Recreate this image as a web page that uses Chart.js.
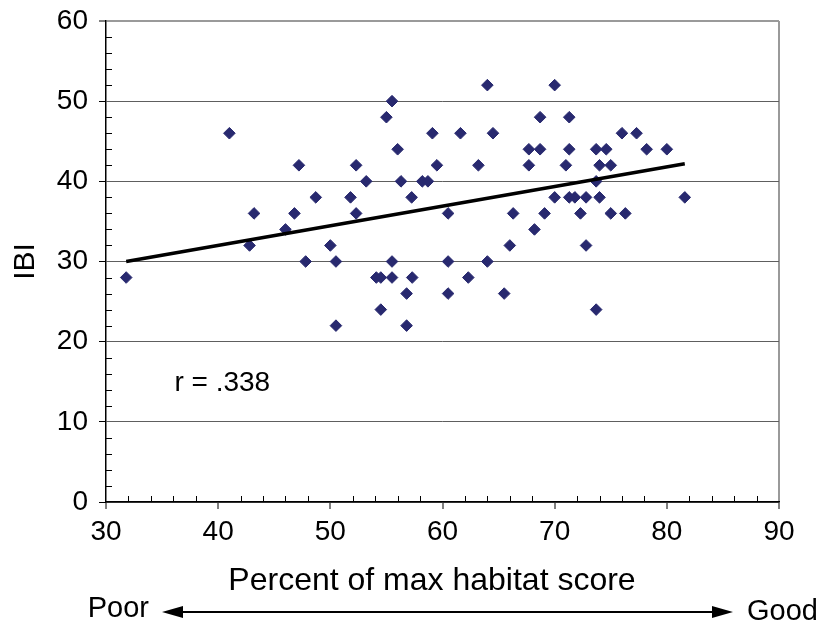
<!DOCTYPE html>
<html>
<head>
<meta charset="utf-8">
<script src="https://cdn.jsdelivr.net/npm/chart.js@4.4.1/dist/chart.umd.min.js"></script>
<style>
  html, body { margin: 0; padding: 0; background: #fff; }
  #wrap { width: 820px; height: 628px; }
</style>
</head>
<body>
<div id="wrap"><canvas id="c" width="820" height="628"></canvas></div>
<script>
// Habitat score (% of max) for each sampled site
const habitatScore = [
  31.8, 41.0, 42.8, 43.2, 46.0, 46.8, 47.2, 47.8, 48.7, 50.0,
  50.5, 50.5, 51.8, 52.3, 52.3, 53.2, 54.1, 54.5, 54.5, 55.0,
  55.5, 55.5, 55.5, 56.0, 56.3, 56.8, 56.8, 57.25, 57.3, 58.2,
  58.7, 59.1, 59.5, 60.5, 60.5, 60.5, 61.6, 62.3, 63.2, 64.0,
  64.0, 64.5, 65.5, 66.0, 66.3, 67.7, 67.7, 68.2, 68.7, 68.7,
  69.1, 70.0, 70.0, 71.0, 71.3, 71.3, 71.3, 71.8, 72.3, 72.8,
  72.8, 73.7, 73.7, 73.7, 74.0, 74.0, 74.6, 75.0, 75.0, 76.0,
  76.3, 77.3, 78.2, 80.0, 81.6
];
// Index of Biotic Integrity for the same sites
const ibiScore = [
  28, 46, 32, 36, 34, 36, 42, 30, 38, 32,
  30, 22, 38, 42, 36, 40, 28, 28, 24, 48,
  50, 30, 28, 44, 40, 26, 22, 38, 28, 40,
  40, 46, 42, 36, 30, 26, 46, 28, 42, 52,
  30, 46, 26, 32, 36, 44, 42, 34, 48, 44,
  36, 52, 38, 42, 48, 44, 38, 38, 36, 38,
  32, 44, 40, 24, 42, 38, 44, 42, 36, 46,
  36, 46, 44, 44, 38
];
// Least-squares trend line end points
const trendX = [31.8, 81.6];
const trendY = [30.0, 42.2];
const correlationLabel = 'r = .338';

const xTitle = 'Percent of max habitat score';
const yTitle = 'IBI';
const poorLabel = 'Poor';
const goodLabel = 'Good';

const FONT = "'Liberation Sans', Arial, Helvetica, sans-serif";

const points = habitatScore.map((x, i) => ({ x, y: ibiScore[i] }));
const trend = trendX.map((x, i) => ({ x, y: trendY[i] }));

// Minor tick marks, correlation note, x-axis title and the Poor/Good arrow
const extras = {
  id: 'extras',
  afterDraw(chart) {
    const { ctx, chartArea: a, scales: { x, y } } = chart;
    ctx.save();
    ctx.strokeStyle = '#000';
    ctx.lineWidth = 1;
    ctx.beginPath();
    for (let v = x.min; v <= x.max; v += 2) {
      if (v % 10 === 0) continue;
      const px = Math.round(x.getPixelForValue(v)) + 0.5;
      ctx.moveTo(px, a.bottom);
      ctx.lineTo(px, a.bottom - 6);
    }
    for (let v = y.min; v <= y.max; v += 2) {
      if (v % 10 === 0) continue;
      const py = Math.round(y.getPixelForValue(v)) + 0.5;
      ctx.moveTo(a.left, py);
      ctx.lineTo(a.left + 6, py);
    }
    ctx.stroke();

    // correlation coefficient
    ctx.fillStyle = '#000';
    ctx.font = '28px ' + FONT;
    ctx.textAlign = 'left';
    ctx.textBaseline = 'middle';
    ctx.fillText(correlationLabel, x.getPixelForValue(36.1), y.getPixelForValue(14.8));

    // x-axis title
    ctx.font = '32px ' + FONT;
    ctx.textAlign = 'center';
    ctx.fillText(xTitle, a.left + 326, a.bottom + 79);

    // Poor <-> Good arrow under the axis title
    const ay = 612;
    const xl = a.left + 56;
    const xr = a.right - 46;
    const head = 21, half = 6;
    ctx.lineWidth = 2;
    ctx.beginPath();
    ctx.moveTo(xl + head - 2, ay);
    ctx.lineTo(xr - head + 2, ay);
    ctx.stroke();
    ctx.beginPath();
    ctx.moveTo(xl, ay);
    ctx.lineTo(xl + head, ay - half);
    ctx.lineTo(xl + head, ay + half);
    ctx.closePath();
    ctx.moveTo(xr, ay);
    ctx.lineTo(xr - head, ay - half);
    ctx.lineTo(xr - head, ay + half);
    ctx.closePath();
    ctx.fill();

    ctx.font = '29px ' + FONT;
    ctx.textBaseline = 'middle';
    ctx.textAlign = 'right';
    ctx.fillText(poorLabel, xl - 13, ay - 3);
    ctx.textAlign = 'left';
    ctx.fillText(goodLabel, xr + 14, ay);
    ctx.restore();
  }
};

new Chart(document.getElementById('c'), {
  type: 'scatter',
  data: {
    datasets: [
      {
        type: 'line',
        data: trend,
        borderColor: '#000',
        borderWidth: 3.5,
        pointRadius: 0,
        showLine: true,
        fill: false,
        order: 0
      },
      {
        data: points,
        pointStyle: 'rectRot',
        pointRadius: 5.8,
        pointBackgroundColor: '#28296f',
        pointBorderColor: '#28296f',
        pointBorderWidth: 1,
        order: 1
      }
    ]
  },
  options: {
    responsive: false,
    devicePixelRatio: 1,
    animation: false,
    events: [],
    layout: { padding: { top: 21, right: 41, left: 0, bottom: 0 } },
    plugins: {
      legend: { display: false },
      tooltip: { enabled: false }
    },
    scales: {
      x: {
        type: 'linear',
        min: 30,
        max: 90,
        afterFit(scale) { scale.height = 126; },
        ticks: {
          stepSize: 10,
          color: '#000',
          padding: 6,
          font: { family: FONT, size: 28 }
        },
        grid: {
          drawOnChartArea: true,
          color: (c) => (c.tick && c.tick.value === 90 ? '#9a9a9a' : 'rgba(0,0,0,0)'),
          lineWidth: 2,
          tickColor: '#000',
          tickLength: 7,
          tickWidth: 1
        },
        border: { color: '#000', width: 1.5 },
        title: { display: false }
      },
      y: {
        type: 'linear',
        min: 0,
        max: 60,
        afterFit(scale) {
          scale.width = 106;
          scale.paddingTop = 0;
          scale.paddingBottom = 0;
        },
        ticks: {
          stepSize: 10,
          color: '#000',
          padding: 11,
          font: { family: FONT, size: 28 }
        },
        grid: {
          color: (c) => (c.tick && c.tick.value === 60 ? '#9a9a9a' : '#5e5e5e'),
          lineWidth: (c) => (c.tick && c.tick.value === 60 ? 2 : 1),
          tickColor: '#000',
          tickLength: 7,
          tickWidth: 1
        },
        border: { color: '#000', width: 1.5 },
        title: {
          display: true,
          text: yTitle,
          color: '#000',
          font: { family: FONT, size: 30 },
          padding: { top: 8, bottom: 0 }
        }
      }
    }
  },
  plugins: [extras]
});
</script>
</body>
</html>
